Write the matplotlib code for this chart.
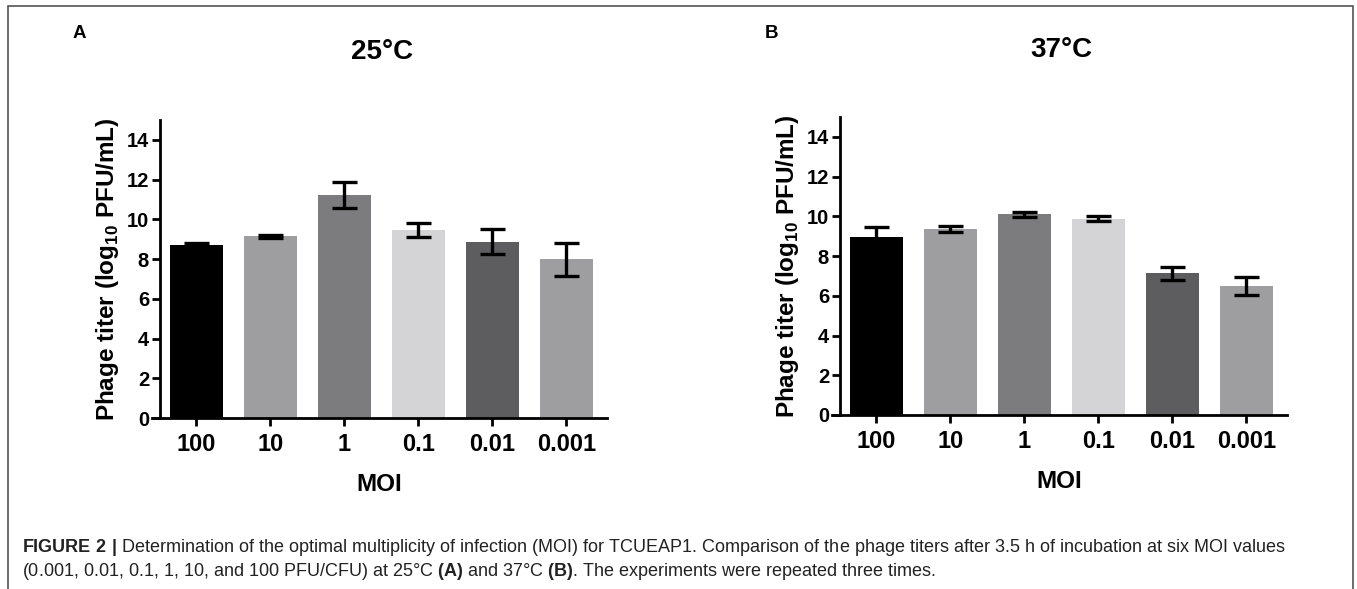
import matplotlib
matplotlib.use("Agg")
import matplotlib.pyplot as plt
from matplotlib.patches import Rectangle
import numpy as np

plt.rcParams['font.family'] = ['Liberation Sans', 'DejaVu Sans']
plt.rcParams['mathtext.fontset'] = 'custom'
plt.rcParams['mathtext.rm'] = 'Liberation Sans'
plt.rcParams['mathtext.bf'] = 'Liberation Sans:bold'

# data (log10 PFU/mL, mean and SD)
moi = ["100", "10", "1", "0.1", "0.01", "0.001"]
titer_25 = [8.70, 9.14, 11.24, 9.45, 8.88, 7.98]
sd_25 = [0.10, 0.07, 0.66, 0.35, 0.61, 0.82]
titer_37 = [8.96, 9.37, 10.10, 9.87, 7.13, 6.50]
sd_37 = [0.51, 0.16, 0.14, 0.13, 0.31, 0.47]
bar_colors = ["#000000", "#9e9ea1", "#7c7c7e", "#d4d4d6", "#5d5d5f", "#9e9ea1"]

W, H = 1357, 589
fig = plt.figure(figsize=(W / 100, H / 100), dpi=100)

def px(x0, y0, x1, y1):
    # pixel box (top-left origin) -> figure fraction rect
    return [x0 / W, 1 - y1 / H, (x1 - x0) / W, (y1 - y0) / H]

def panel(rect, vals, errs, title, letter, lx, tx, ty):
    ax = fig.add_axes(rect)
    x = np.arange(len(moi))
    ax.bar(x, vals, width=0.72, color=bar_colors, yerr=errs,
           error_kw=dict(ecolor="black", elinewidth=2.4, capsize=9, capthick=2.4),
           zorder=2)
    ax.set_xlim(-0.6, 5.55)
    ax.set_ylim(0, 15)
    ax.spines["left"].set_position(("data", -0.49))
    for s in ("top", "right"):
        ax.spines[s].set_visible(False)
    for s in ("left", "bottom"):
        ax.spines[s].set_linewidth(2.0)
    ax.set_yticks(range(0, 15, 2))
    ax.set_xticks(x)
    ax.set_xticklabels(moi, fontsize=17, fontweight="bold")
    ax.tick_params(axis="y", labelsize=14.5, width=2, length=6, pad=2)
    ax.tick_params(axis="x", width=2, length=6, pad=5)
    for t in ax.get_yticklabels():
        t.set_fontweight("bold")
    ax.set_ylabel(r"Phage titer (log$_{\mathbf{10}}$ PFU/mL)", fontsize=17.5,
                  fontweight="bold", labelpad=4)
    ax.set_xlabel("MOI", fontsize=17.5, fontweight="bold", labelpad=12)
    fig.text(tx / W, 1 - ty / H, title, fontsize=20, fontweight="bold",
             ha="center", va="center")
    fig.text(lx / W, 1 - 33 / H, letter, fontsize=13.5, fontweight="bold",
             ha="center", va="center")
    return ax

panel(px(152, 120, 607, 418), titer_25, sd_25, "25°C", "A", 79, 382, 52)
panel(px(832, 117, 1287, 415), titer_37, sd_37, "37°C", "B", 771, 1061, 50)

# caption
fig.text(22 / W, 1 - 547 / H,
         r"$\mathbf{FIGURE\ 2\ |}$ Determination of the optimal multiplicity of infection (MOI) "
         r"for TCUEAP1. Comparison of the phage titers after 3.5 h of incubation at six MOI values",
         fontsize=13, color="#222222", va="center")
fig.text(22 / W, 1 - 572 / H,
         r"(0.001, 0.01, 0.1, 1, 10, and 100 PFU/CFU) at 25°C $\mathbf{(A)}$ and 37°C "
         r"$\mathbf{(B)}$. The experiments were repeated three times.",
         fontsize=13, color="#222222", va="center")

# figure frame
fig.patches.append(Rectangle((8 / W, -0.02), (1353 - 8) / W, 1.02 - 6 / H,
                             transform=fig.transFigure, fill=False,
                             edgecolor="#555555", linewidth=1.2))

fig.savefig("out.png", dpi=100)
